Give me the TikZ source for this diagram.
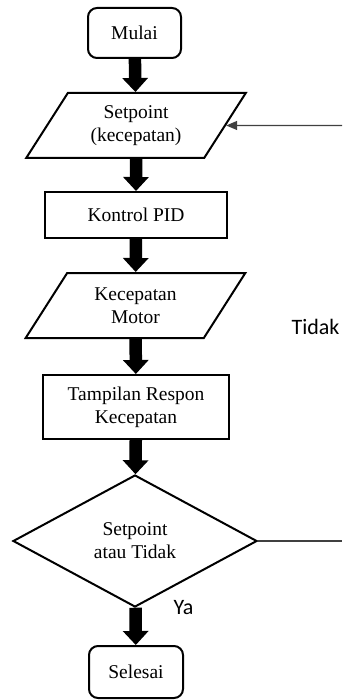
\documentclass[tikz,border=0pt]{standalone}
\usepackage{fontspec}
\setmainfont{Liberation Serif}
\newfontfamily\labelfont{Carlito}
\usetikzlibrary{arrows.meta,shapes.geometric}

\begin{document}
\begin{tikzpicture}[
    x=1pt, y=1pt,
    font=\fontsize{19.5pt}{23pt}\selectfont,
    terminal/.style={
        rectangle,
        draw=black,
        line width=2pt,
        rounded corners=9pt,
        align=center,
        minimum width=93pt,
        minimum height=50pt,
        inner sep=2pt
    },
    ioBox/.style={
        trapezium,
        trapezium left angle=56,
        trapezium right angle=124,
        trapezium stretches=true,
        draw=black,
        line width=2pt,
        align=center,
        minimum width=220pt,
        minimum height=65pt,
        inner sep=1pt
    },
    process/.style={
        rectangle,
        draw=black,
        line width=2pt,
        align=center,
        inner sep=2pt
    },
    decision/.style={
        diamond,
        draw=black,
        line width=2pt,
        align=center,
        minimum width=244pt,
        minimum height=132pt,
        inner sep=0pt
    },
    flowArrow/.style={
        line width=12.5pt,
        -{Triangle[length=14pt,width=25pt]}
    },
    loopLine/.style={
        draw=black!75,
        line width=1.3pt
    },
    branchLabel/.style={
        font=\labelfont\fontsize{22pt}{26pt}\selectfont
    }
]
\useasboundingbox (0,0) rectangle (342,-700);

% ==================== NODES ====================
\node[terminal] (mulai) at (134.5,-33) {Mulai};
\node[ioBox] (setpoint) at (136,-125.5) {Setpoint\\(kecepatan)};
\node[process, minimum width=182pt, minimum height=46pt] (pid) at (136,-215) {Kontrol PID};
\node[ioBox] (motor) at (135.5,-305.5) {Kecepatan\\Motor};
\node[process, minimum width=186pt, minimum height=64pt] (respon) at (136,-407) {Tampilan Respon\\Kecepatan};
\node[decision] (cek) at (135,-541) {Setpoint\\atau Tidak};
\node[terminal, minimum width=94pt, minimum height=52pt] (selesai) at (136,-672) {Selesai};

% ==================== MAIN FLOW ====================
\draw[flowArrow] (mulai) -- (setpoint);
\draw[flowArrow] (setpoint) -- (pid);
\draw[flowArrow] (pid) -- (motor);
\draw[flowArrow] (motor) -- (respon);
\draw[flowArrow] (respon) -- (cek);
\draw[flowArrow] (cek) -- (selesai);

% ==================== LOOP BACK ====================
\coordinate (loopOut) at (342,-541);
\coordinate (loopIn) at (342,-125.5);
\draw[loopLine] (cek.east) -- (loopOut);
\draw[loopLine, -{Triangle[length=11pt,width=9pt]}] (loopIn) -- (setpoint.east);

% labels
\node[branchLabel, anchor=base west] (ya) at (170,-614) {Ya};
\node[branchLabel, anchor=base west] (tidak) at (288,-334) {Tidak};

\end{tikzpicture}
\end{document}
